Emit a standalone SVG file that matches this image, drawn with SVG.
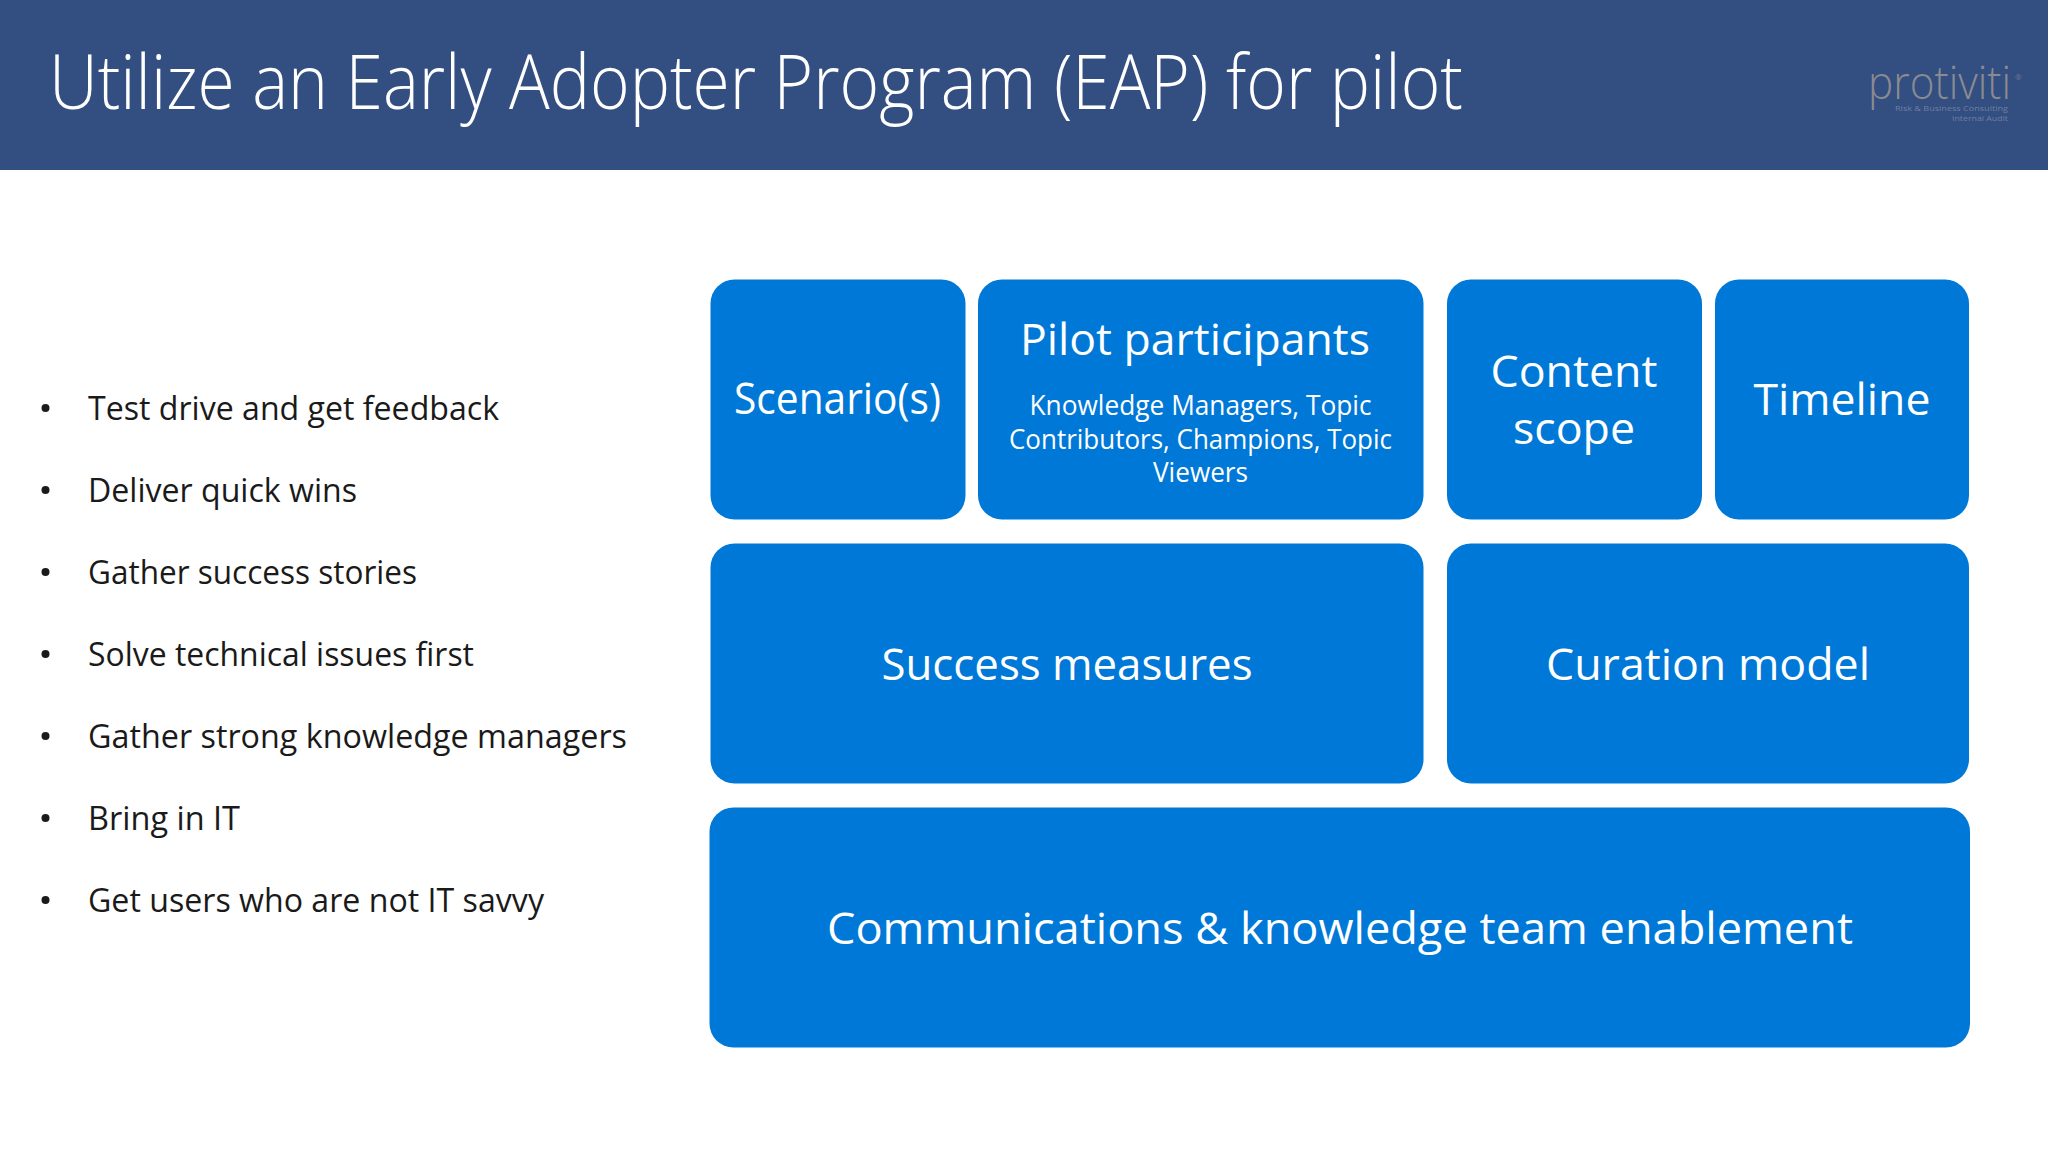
<svg xmlns="http://www.w3.org/2000/svg" width="2048" height="1152" viewBox="0 0 2048 1152">
<style>
text{font-family:"Open Sans","Noto Sans","Liberation Sans",sans-serif}
.box{fill:#0078d7}
.lg{font-size:44px;fill:#fff;text-anchor:middle}
.sm{font-size:27px;fill:#fff;text-anchor:middle}
.li{font-size:33px;fill:#1a1a1a}
.dot{fill:#1a1a1a}
</style>
<rect width="2048" height="1152" fill="#fff"/>
<g id="header">
<rect width="2048" height="170" fill="#334e80"/>
<text x="49" y="109" font-size="76" font-weight="300" fill="#fff" textLength="1414" lengthAdjust="spacingAndGlyphs">Utilize an Early Adopter Program (EAP) for pilot</text>
</g>
<g id="logo">
<text x="1868" y="99" font-size="46" font-weight="300" fill="#8a8b90" textLength="143" lengthAdjust="spacingAndGlyphs">protiviti</text>
<text x="2015" y="80" font-size="8" fill="#6f7a93">®</text>
<text x="2008" y="111" font-size="8" fill="#6f7fa0" text-anchor="end" textLength="113" lengthAdjust="spacingAndGlyphs">Risk &amp; Business Consulting</text>
<text x="2008" y="121" font-size="8" fill="#6f7fa0" text-anchor="end" textLength="56" lengthAdjust="spacingAndGlyphs">Internal Audit</text>
</g>
<g id="bullets">
<circle class="dot" cx="45.500" cy="408" r="4"/><text class="li" x="88" y="420" textLength="411" lengthAdjust="spacingAndGlyphs">Test drive and get feedback</text>
<circle class="dot" cx="45.500" cy="490" r="4"/><text class="li" x="88" y="502" textLength="269" lengthAdjust="spacingAndGlyphs">Deliver quick wins</text>
<circle class="dot" cx="45.500" cy="572" r="4"/><text class="li" x="88" y="584" textLength="329" lengthAdjust="spacingAndGlyphs">Gather success stories</text>
<circle class="dot" cx="45.500" cy="654" r="4"/><text class="li" x="88" y="666" textLength="386" lengthAdjust="spacingAndGlyphs">Solve technical issues first</text>
<circle class="dot" cx="45.500" cy="736" r="4"/><text class="li" x="88" y="748" textLength="539" lengthAdjust="spacingAndGlyphs">Gather strong knowledge managers</text>
<circle class="dot" cx="45.500" cy="818" r="4"/><text class="li" x="88" y="830" textLength="152" lengthAdjust="spacingAndGlyphs">Bring in IT</text>
<circle class="dot" cx="45.500" cy="900" r="4"/><text class="li" x="88" y="912" textLength="456" lengthAdjust="spacingAndGlyphs">Get users who are not IT savvy</text>
</g>
<g id="scenarios"><rect class="box" x="710.500" y="279.500" width="255" height="240" rx="24"/><text class="lg" x="837.500" y="414" textLength="207" lengthAdjust="spacingAndGlyphs">Scenario(s)</text></g>
<g id="pilot-participants"><rect class="box" x="978" y="279.500" width="445.500" height="240" rx="24"/>
<text class="lg" x="1195" y="355" textLength="350" lengthAdjust="spacingAndGlyphs">Pilot participants</text>
<text class="sm" x="1200.500" y="415" textLength="342" lengthAdjust="spacingAndGlyphs">Knowledge Managers, Topic</text>
<text class="sm" x="1200.500" y="449" textLength="383" lengthAdjust="spacingAndGlyphs">Contributors, Champions, Topic</text>
<text class="sm" x="1200.500" y="482" textLength="95" lengthAdjust="spacingAndGlyphs">Viewers</text></g>
<g id="content-scope"><rect class="box" x="1447" y="279.500" width="255" height="240" rx="24"/>
<text class="lg" x="1574" y="386.500" textLength="167" lengthAdjust="spacingAndGlyphs">Content</text>
<text class="lg" x="1574" y="444" textLength="122" lengthAdjust="spacingAndGlyphs">scope</text></g>
<g id="timeline"><rect class="box" x="1715" y="279.500" width="254" height="240" rx="24"/><text class="lg" x="1842" y="415" textLength="177" lengthAdjust="spacingAndGlyphs">Timeline</text></g>
<g id="success-measures"><rect class="box" x="710.500" y="543.500" width="713" height="240" rx="24"/><text class="lg" x="1067" y="680" textLength="371" lengthAdjust="spacingAndGlyphs">Success measures</text></g>
<g id="curation-model"><rect class="box" x="1447" y="543.500" width="522" height="240" rx="24"/><text class="lg" x="1708" y="680" textLength="324" lengthAdjust="spacingAndGlyphs">Curation model</text></g>
<g id="communications"><rect class="box" x="709.500" y="807.500" width="1260.500" height="240" rx="24"/><text class="lg" x="1340" y="943.500" textLength="1026" lengthAdjust="spacingAndGlyphs">Communications &amp; knowledge team enablement</text></g>
<g id="connectors"></g>
</svg>
